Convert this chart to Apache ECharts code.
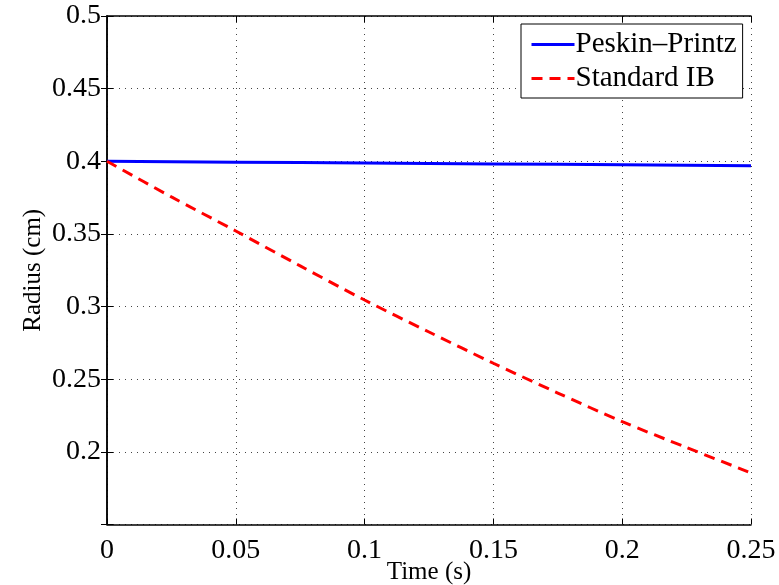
<!DOCTYPE html>
<html><head><meta charset="utf-8">
<script src="https://cdn.jsdelivr.net/npm/echarts@6/dist/echarts.min.js"></script>
<style>html,body{margin:0;padding:0;background:#fff}#c{width:779px;height:585px}</style>
</head><body><div id="c"></div>
<script>
var time = [0, 0.025, 0.05, 0.075, 0.1, 0.125, 0.15, 0.175, 0.2, 0.225, 0.25];
var peskinPrintz = [0.4, 0.3997, 0.3994, 0.3991, 0.3988, 0.3985, 0.3982, 0.3979, 0.3976, 0.3973, 0.397];
var standardIB = [0.4, 0.3755, 0.352, 0.328, 0.3045, 0.2825, 0.261, 0.2405, 0.2208, 0.203, 0.1855];
var seriesNames = ['Peskin\u2013Printz', 'Standard IB'];

var FONT = '"Liberation Serif", "DejaVu Serif", serif';
function pairs(xs, ys){ return xs.map(function(x,i){return [x, ys[i]];}); }
var chart = echarts.init(document.getElementById('c'), null, {renderer:'canvas'});
var fmtX = function(v){ return String(Math.round(v*1000)/1000); };
var fmtY = function(v){ var r = Math.round(v*1000)/1000; return r === 0.15 ? '' : String(r); };
var gridDot = {show:true, lineStyle:{color:'#444', type:[1,5], width:1}};
chart.setOption({
  animation:false,
  backgroundColor:'#fff',
  grid:{left:107, top:16, right:28, bottom:60.5, show:false, containLabel:false, outerBoundsMode:'none'},
  legend:{
    data:seriesNames, orient:'vertical', left:521, top:24,
    padding:[6,6,5,9], itemGap:5, itemWidth:43, itemHeight:14,
    borderColor:'#000', borderWidth:1, backgroundColor:'#fff',
    itemStyle:{opacity:0},
    lineStyle:{width:3},
    textStyle:{fontFamily:FONT, fontSize:29, color:'#000', padding:[0,0,0,-4]}
  },
  xAxis:[{
    type:'value', min:0, max:0.25, interval:0.05,
    name:'Time (s)', nameLocation:'middle', nameGap:35, nameMoveOverlap:false,
    nameTextStyle:{fontFamily:FONT, fontSize:25, color:'#000'},
    axisLine:{show:true, onZero:false, lineStyle:{color:'#000', width:1.5}},
    axisTick:{show:true, inside:true, length:6, lineStyle:{color:'#000'}},
    axisLabel:{fontFamily:FONT, fontSize:28, color:'#000', margin:12, formatter:fmtX},
    splitLine:gridDot
  },{
    type:'value', position:'top', min:0, max:0.25, interval:0.05,
    axisLine:{show:true, lineStyle:{color:'#000', width:1.5}},
    axisTick:{show:true, inside:true, length:6, lineStyle:{color:'#000'}},
    axisLabel:{show:false}, splitLine:{show:false}
  }],
  yAxis:[{
    type:'value', min:0.15, max:0.5, interval:0.05,
    name:'Radius (cm)', nameLocation:'middle', nameGap:61, nameRotate:90, nameMoveOverlap:false,
    nameTextStyle:{fontFamily:FONT, fontSize:25, color:'#000'},
    axisLine:{show:true, onZero:false, lineStyle:{color:'#000', width:1.5}},
    axisTick:{show:true, inside:true, length:6, lineStyle:{color:'#000'}},
    axisLabel:{fontFamily:FONT, fontSize:28, color:'#000', margin:6, formatter:fmtY},
    splitLine:gridDot
  },{
    type:'value', position:'right', min:0.15, max:0.5, interval:0.05,
    axisLine:{show:true, lineStyle:{color:'#000', width:1.5}},
    axisTick:{show:true, inside:true, length:6, lineStyle:{color:'#000'}},
    axisLabel:{show:false}, splitLine:{show:false}
  }],
  series:[{
    name:seriesNames[0], type:'line', data:pairs(time, peskinPrintz),
    showSymbol:false, symbol:'none', color:'#0000ff',
    lineStyle:{color:'#0000ff', width:3}
  },{
    name:seriesNames[1], type:'line', data:pairs(time, standardIB),
    showSymbol:false, symbol:'none', color:'#ff0000', smooth:0.3,
    lineStyle:{color:'#ff0000', width:3, type:[11,7]}
  }]
});
</script></body></html>
